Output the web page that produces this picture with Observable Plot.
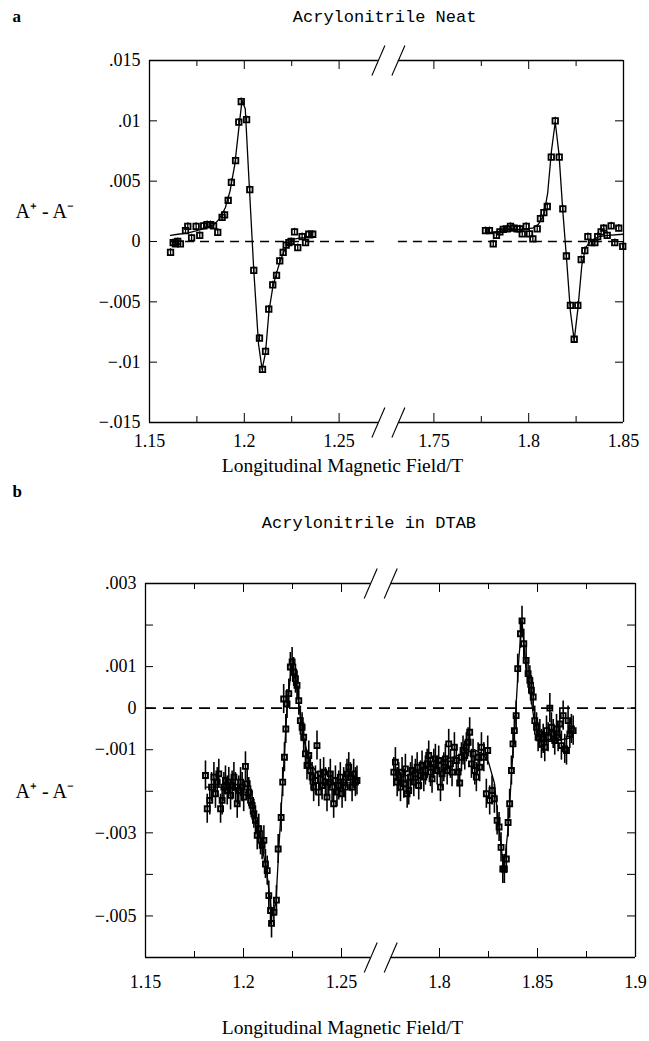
<!DOCTYPE html>
<html><head><meta charset="utf-8">
<script src="https://cdn.jsdelivr.net/npm/d3@7"></script>
<script src="https://cdn.jsdelivr.net/npm/@observablehq/plot@0.6"></script>
<style>
body{margin:0;background:#fff;}
#chart{width:649px;}
#chart svg{display:block;background:#fff;}
</style></head><body><div id="chart"></div>
<script>
// ---------- Panel a : Acrylonitrile Neat ----------
const aTitle = "Acrylonitrile Neat";
const aLeft = [[1.1611,-0.0009],[1.1625,-0.0001],[1.1637,-0.0002],[1.1649,0.0000],[1.1663,-0.0002],[1.1690,0.0009],[1.1702,0.00125],[1.1722,0.0003],[1.1746,0.00125],[1.1765,0.0005],[1.1786,0.0013],[1.1804,0.0014],[1.1822,0.0014],[1.1838,0.0013],[1.1860,0.00075],[1.1883,0.0020],[1.1896,0.0022],[1.1915,0.0034],[1.1932,0.0049],[1.1954,0.0067],[1.1971,0.0099],[1.1984,0.0116],[1.2012,0.0101],[1.2029,0.0043],[1.2050,-0.0024],[1.2080,-0.0080],[1.2096,-0.0106],[1.2112,-0.0091],[1.2129,-0.0056],[1.2150,-0.0036],[1.2170,-0.0028],[1.2187,-0.0016],[1.2205,-0.0009],[1.2221,-0.0003],[1.2235,-0.0001],[1.2247,0.0000],[1.2265,0.0008],[1.2282,-0.0005],[1.2305,0.0004],[1.2323,-0.0001],[1.2340,0.0006],[1.2361,0.0006]];
const aRight = [[1.7772,0.0009],[1.7793,0.0009],[1.7813,-0.0002],[1.7830,0.0005],[1.7848,0.0008],[1.7866,0.0010],[1.7887,0.00105],[1.7904,0.00125],[1.7921,0.0011],[1.7939,0.00105],[1.7953,0.00105],[1.7966,0.00064],[1.7987,0.00125],[1.8004,0.00064],[1.8022,0.00022],[1.8045,0.00105],[1.8062,0.0019],[1.8080,0.0024],[1.8098,0.0029],[1.8119,0.0070],[1.8140,0.0100],[1.8161,0.0070],[1.8180,0.0027],[1.8199,-0.0012],[1.8220,-0.0053],[1.8240,-0.0081],[1.8259,-0.0053],[1.8277,-0.0015],[1.8296,-0.00075],[1.8312,0.0004],[1.8331,-0.0001],[1.8349,-0.0001],[1.8364,0.0004],[1.8382,0.0008],[1.8396,0.0011],[1.8414,0.0005],[1.8435,0.0013],[1.8454,-0.0001],[1.8475,0.0011],[1.8496,-0.0004]];
const aFitLeft = [[1.1611,0.0005],[1.165,0.0006],[1.170,0.0007],[1.175,0.0009],[1.180,0.0011],[1.184,0.0014],[1.187,0.0019],[1.190,0.0028],[1.1925,0.0042],[1.195,0.0064],[1.1972,0.0095],[1.1988,0.0117],[1.2005,0.0110],[1.2025,0.0050],[1.205,-0.0024],[1.2075,-0.0085],[1.2094,-0.0106],[1.2112,-0.0092],[1.213,-0.0058],[1.215,-0.0038],[1.217,-0.0026],[1.219,-0.0016],[1.221,-0.0008],[1.223,-0.0002],[1.226,0.0002],[1.230,0.0003],[1.2361,0.0003]];
const aFitRight = [[1.7772,0.0007],[1.782,0.0008],[1.787,0.0009],[1.792,0.0010],[1.797,0.0010],[1.802,0.0011],[1.805,0.0014],[1.808,0.0022],[1.810,0.0040],[1.812,0.0075],[1.814,0.0099],[1.816,0.0072],[1.818,0.0025],[1.820,-0.0015],[1.822,-0.0058],[1.824,-0.0082],[1.826,-0.0055],[1.828,-0.0020],[1.830,-0.0005],[1.833,0.0001],[1.837,0.0004],[1.842,0.0005],[1.8496,0.0006]];
const aXMajor = [1.15, 1.2, 1.25, 1.75, 1.8, 1.85];
const aXMinor = [1.175, 1.225, 1.775, 1.825];
const aYLabels = [-0.015, -0.01, -0.005, 0, 0.005, 0.01, 0.015];
const aYTicks = [-0.01, -0.005, 0, 0.005, 0.01];
const aErr = 0.0003;

// ---------- Panel b : Acrylonitrile in DTAB ----------
const bTitle = "Acrylonitrile in DTAB";
const bLeft = [[1.1806,-0.00162],[1.1815,-0.00242],[1.1828,-0.00222],[1.1837,-0.0019],[1.1849,-0.00166],[1.1857,-0.00206],[1.1866,-0.00178],[1.1874,-0.00158],[1.1883,-0.00242],[1.1891,-0.00222],[1.1900,-0.0019],[1.1908,-0.00174],[1.1917,-0.00198],[1.1925,-0.00178],[1.1934,-0.0021],[1.1942,-0.00186],[1.1951,-0.00166],[1.1959,-0.0019],[1.1968,-0.0023],[1.1976,-0.00198],[1.1985,-0.00178],[1.1993,-0.0019],[1.2001,-0.00214],[1.2010,-0.0014],[1.2019,-0.00182],[1.2027,-0.00202],[1.2036,-0.00222],[1.2044,-0.00234],[1.2053,-0.00254],[1.2061,-0.0027],[1.2070,-0.00306],[1.2078,-0.0029],[1.2087,-0.00318],[1.2095,-0.0033],[1.2104,-0.00318],[1.2112,-0.00375],[1.2121,-0.00391],[1.2129,-0.00451],[1.2138,-0.00487],[1.2143,-0.00518],[1.2155,-0.00491],[1.2168,-0.00462],[1.2177,-0.00339],[1.2192,-0.00263],[1.2200,-0.00178],[1.2205,0.00022],[1.2209,-0.00118],[1.2216,-0.0005],[1.2222,0.0001],[1.2231,0.00035],[1.2239,0.00099],[1.2248,0.00111],[1.2256,0.00087],[1.2265,0.00071],[1.2273,0.00055],[1.2282,0.00018],[1.2290,-0.0003],[1.2299,-0.00046],[1.2307,-0.0007],[1.2316,-0.0011],[1.2324,-0.00138],[1.2333,-0.00114],[1.2341,-0.0015],[1.2350,-0.00166],[1.2358,-0.0019],[1.2367,-0.00174],[1.2375,-0.0009],[1.2384,-0.00202],[1.2392,-0.00158],[1.2401,-0.00186],[1.2409,-0.00154],[1.2418,-0.00178],[1.2426,-0.00214],[1.2435,-0.00178],[1.2443,-0.00158],[1.2452,-0.0019],[1.2460,-0.0023],[1.2469,-0.00174],[1.2477,-0.00202],[1.2486,-0.00186],[1.2494,-0.00166],[1.2503,-0.00206],[1.2511,-0.00178],[1.2520,-0.0019],[1.2528,-0.00158],[1.2537,-0.00142],[1.2545,-0.00166],[1.2554,-0.0019],[1.2562,-0.00158],[1.2571,-0.00178],[1.2579,-0.00174]];
const bRight = [[1.7767,-0.00154],[1.7775,-0.0013],[1.7784,-0.00178],[1.7792,-0.00166],[1.7801,-0.0019],[1.7809,-0.00154],[1.7818,-0.00182],[1.7826,-0.00146],[1.7835,-0.00206],[1.7843,-0.00198],[1.7852,-0.00166],[1.7860,-0.0015],[1.7869,-0.00178],[1.7877,-0.00158],[1.7886,-0.00142],[1.7894,-0.00186],[1.7903,-0.00162],[1.7911,-0.00138],[1.7920,-0.00166],[1.7928,-0.0015],[1.7937,-0.00134],[1.7945,-0.00114],[1.7954,-0.00154],[1.7962,-0.0017],[1.7971,-0.00134],[1.7979,-0.00122],[1.7988,-0.0015],[1.7996,-0.00126],[1.8005,-0.0019],[1.8013,-0.00158],[1.8022,-0.00142],[1.8030,-0.00122],[1.8039,-0.0015],[1.8047,-0.00086],[1.8056,-0.00134],[1.8064,-0.00154],[1.8076,-0.00094],[1.8086,-0.00126],[1.8095,-0.00154],[1.8103,-0.0018],[1.8112,-0.00118],[1.8120,-0.00102],[1.8129,-0.00114],[1.8137,-0.00094],[1.8146,-0.00082],[1.8154,-0.00058],[1.8163,-0.00134],[1.8171,-0.0011],[1.8180,-0.0015],[1.8188,-0.00166],[1.8197,-0.00118],[1.8205,-0.00142],[1.8214,-0.00094],[1.8226,-0.00118],[1.8239,-0.00206],[1.8246,-0.00102],[1.8256,-0.00222],[1.8268,-0.00198],[1.8280,-0.00218],[1.8294,-0.0027],[1.8304,-0.00286],[1.8314,-0.00335],[1.8323,-0.00387],[1.8331,-0.00387],[1.8341,-0.00363],[1.8350,-0.00275],[1.8358,-0.0023],[1.8367,-0.0015],[1.8375,-0.00086],[1.8382,-0.00054],[1.8391,-0.00018],[1.8399,0.00095],[1.8413,0.00179],[1.8421,0.0021],[1.8430,0.00155],[1.8442,0.00115],[1.8452,0.00083],[1.8461,0.00067],[1.8469,0.00043],[1.8478,0.00027],[1.8486,-0.0003],[1.8495,-0.00046],[1.8503,-0.0007],[1.8512,-0.00062],[1.8520,-0.00086],[1.8529,-0.00074],[1.8537,-0.00094],[1.8546,-0.00054],[1.8554,-0.0007],[1.8563,0.0],[1.8571,-0.00046],[1.8580,-0.00062],[1.8588,-0.00078],[1.8597,-0.0005],[1.8605,-0.0007],[1.8614,-0.00038],[1.8622,-0.0009],[1.8631,-0.00018],[1.8639,-0.00098],[1.8648,-0.00102],[1.8656,-0.0003],[1.8665,-0.00062],[1.8673,-0.0005],[1.8682,-0.00054]];
const bFitLeft = [[1.1806,-0.0019],[1.188,-0.0019],[1.195,-0.0019],[1.200,-0.0020],[1.203,-0.0021],[1.206,-0.0026],[1.209,-0.0032],[1.212,-0.0040],[1.2145,-0.0050],[1.2165,-0.0047],[1.218,-0.0034],[1.220,-0.0018],[1.2222,0.0000],[1.2245,0.0010],[1.227,0.0006],[1.2285,0.0000],[1.231,-0.0008],[1.234,-0.0013],[1.238,-0.0016],[1.245,-0.0018],[1.2579,-0.0018]];
const bFitRight = [[1.7767,-0.0017],[1.785,-0.0016],[1.795,-0.0014],[1.805,-0.0012],[1.812,-0.0011],[1.818,-0.0010],[1.822,-0.0011],[1.825,-0.0013],[1.828,-0.0018],[1.830,-0.0027],[1.8328,-0.0039],[1.835,-0.0029],[1.837,-0.0014],[1.839,0.0000],[1.8405,0.0012],[1.8421,0.0021],[1.844,0.0010],[1.8465,0.0003],[1.848,-0.0002],[1.850,-0.0006],[1.853,-0.0008],[1.858,-0.0008],[1.8682,-0.0007]];
const bXMajor = [1.15, 1.2, 1.25, 1.8, 1.85, 1.9];
const bXMinor = [1.175, 1.225, 1.825, 1.875];
const bYLabels = [-0.005, -0.003, -0.001, 0, 0.001, 0.003];
const bYTicks = [-0.005, -0.004, -0.003, -0.002, -0.001, 0, 0.001, 0.002];
const bErr = 0.00035;

const yTitle = "A\u207A - A\u207B";
const xTitle = "Longitudinal Magnetic Field/T";
const X_DOMAIN = [1.15, 1.40]; // compressed axis: the right segment is shifted left by `shift`

const serif = "'Liberation Serif', 'Times New Roman', serif";
const mono = "'Liberation Mono', 'DejaVu Sans Mono', monospace";

function fmtY(d) {
  if (d === 0) return "0";
  return (d < 0 ? "\u2212" : "") + String(+Math.abs(d).toFixed(4)).replace(/^0/, "");
}
function fmtX(d) { return String(d); }

function panel(o) {
  const fw = o.width - o.ml - o.mr, fh = o.height - o.mt - o.mb;
  const [xa, xb] = X_DOMAIN, [ya, yb] = o.yDomain;
  const kx = (xb - xa) / fw, ky = (yb - ya) / fh;
  const v = x => (x > 1.5 ? +(x - o.shift).toFixed(6) : x);
  const conv = arr => arr.map(([x, y]) => ({x: v(x), y}));
  const pts = conv(o.left).concat(conv(o.right));
  const fitL = conv(o.fitL), fitR = conv(o.fitR);
  const bc = o.breakAt, g = o.sepPx * kx;
  const frameSegs = [ya, yb].flatMap(y => [{y, a: xa, b: bc - g}, {y, a: bc + g, b: xb}]);
  const slashes = [ya, yb].flatMap(y => [-1, 1].map(s => {
    const c = bc + s * o.sepPx * kx;
    return {x1: c - o.slashW * kx, y1: y - o.slashH * ky, x2: c + o.slashW * kx, y2: y + o.slashH * ky};
  }));
  const inner = t => t > xa + 1e-9 && t < xb - 1e-9;
  const xt = [...o.xMajor.map(v).filter(inner).map(t => ({t, len: o.majorLen})),
              ...o.xMinor.map(v).map(t => ({t, len: o.minorLen}))];
  const xTickSegs = xt.flatMap(({t, len}) => [{x: t, a: ya, b: ya + len * ky}, {x: t, a: yb - len * ky, b: yb}]);
  const yTickSegs = o.yTicks.filter(t => t > ya + 1e-12 && t < yb - 1e-12)
    .flatMap(t => [{y: t, a: xa, b: xa + o.yTickLen * kx}, {y: t, a: xb - o.yTickLen * kx, b: xb}]);
  const dashSegs = o.dash(bc, g, fitL[0].x);
  const xLab = o.xMajor.map(d => ({v: v(d), label: fmtX(d)}));

  return Plot.plot({
    width: o.width, height: o.height,
    marginLeft: o.ml, marginRight: o.mr, marginTop: o.mt, marginBottom: o.mb,
    x: {domain: X_DOMAIN, axis: null},
    y: {domain: o.yDomain, axis: null},
    style: {background: "#fff", color: "#000"},
    marks: [
      Plot.ruleY(dashSegs, {y: 0, x1: "a", x2: "b", stroke: "#000", strokeWidth: 1.7, strokeDasharray: o.dashArray}),
      Plot.line(fitL, {x: "x", y: "y", stroke: "#000", strokeWidth: 1.3}),
      Plot.line(fitR, {x: "x", y: "y", stroke: "#000", strokeWidth: 1.3}),
      Plot.ruleX(pts, {x: "x", y1: d => d.y - o.err, y2: d => d.y + o.err, stroke: "#000", strokeWidth: o.errW}),
      Plot.dot(pts, {x: "x", y: "y", symbol: "square", r: o.r, fill: "none", stroke: "#000", strokeWidth: o.dotW}),
      Plot.ruleX([xa, xb], {stroke: "#000", strokeWidth: 1.3}),
      Plot.ruleY(frameSegs, {y: "y", x1: "a", x2: "b", stroke: "#000", strokeWidth: 1.3}),
      Plot.link(slashes, {x1: "x1", y1: "y1", x2: "x2", y2: "y2", stroke: "#000", strokeWidth: 1.1}),
      Plot.ruleX(xTickSegs, {x: "x", y1: "a", y2: "b", stroke: "#000", strokeWidth: 1}),
      Plot.ruleY(yTickSegs, {y: "y", x1: "a", x2: "b", stroke: "#000", strokeWidth: 1}),
      Plot.text(xLab, {x: "v", text: "label", frameAnchor: "bottom", dy: o.tickLabelDy, fontSize: 18, fontFamily: serif, fill: "#000"}),
      Plot.text(o.yLabels, {y: d => d, text: fmtY, frameAnchor: "left", dx: -9, textAnchor: "end", fontSize: 18, fontFamily: serif, fill: "#000"}),
      Plot.text([o.title], {x: () => o.titleAt, text: d => d, frameAnchor: "top", dy: o.titleDy, textAnchor: "middle", fontSize: 17, fontFamily: mono, fill: "#000"}),
      Plot.text([o.letter], {text: d => d, frameAnchor: "top-left", dx: o.letterDx, dy: o.letterDy, textAnchor: "start", fontSize: 17, fontWeight: "bold", fontFamily: serif, fill: "#000"}),
      Plot.text([yTitle], {y: () => o.yTitleAt, text: d => d, frameAnchor: "left", dx: o.yTitleDx, textAnchor: "start", fontSize: 20, fontFamily: serif, fill: "#000"}),
      Plot.text([xTitle], {text: d => d, frameAnchor: "bottom", dx: o.xTitleDx, dy: o.xTitleDy, textAnchor: "middle", fontSize: 19.5, fontFamily: serif, fill: "#000"})
    ]
  });
}

const common = {width: 649, majorLen: 9, minorLen: 6, yTickLen: 8, slashW: 6.5, slashH: 15, sepPx: 10};

const chartA = panel({...common,
  height: 480, ml: 149, mr: 26, mt: 60, mb: 58,
  yDomain: [-0.015, 0.015], shift: 0.45, breakAt: 1.276,
  left: aLeft, right: aRight, fitL: aFitLeft, fitR: aFitRight, err: aErr, r: 3.1, dotW: 1.8, errW: 1.3,
  xMajor: aXMajor, xMinor: aXMinor, yTicks: aYTicks, yLabels: aYLabels,
  dash: (bc, g, first) => [{a: first, b: bc - g}, {a: bc + g, b: X_DOMAIN[1]}],
  dashArray: "9,6",
  title: aTitle, titleAt: 1.274, letter: "a",
  tickLabelDy: 24, xTitleDx: -44, xTitleDy: 49, titleDy: -51, letterDx: -137, letterDy: -51,
  yTitleAt: 0.0025, yTitleDx: -134
});
const chartB = panel({...common,
  height: 561, ml: 145, mr: 14, mt: 103, mb: 84,
  yDomain: [-0.006, 0.003], shift: 0.5, breakAt: 1.27,
  left: bLeft, right: bRight, fitL: bFitLeft, fitR: bFitRight, err: bErr, r: 2.8, dotW: 1.9, errW: 1.6,
  xMajor: bXMajor, xMinor: bXMinor, yTicks: bYTicks, yLabels: bYLabels,
  dash: () => [{a: X_DOMAIN[0], b: X_DOMAIN[1]}],
  dashArray: "11,7",
  title: bTitle, titleAt: 1.264, letter: "b",
  tickLabelDy: 30, xTitleDx: -48, xTitleDy: 76, titleDy: -68, letterDx: -133, letterDy: -99,
  yTitleAt: -0.002, yTitleDx: -130
});
const root = document.getElementById("chart");
root.appendChild(chartA);
root.appendChild(chartB);
</script></body></html>
